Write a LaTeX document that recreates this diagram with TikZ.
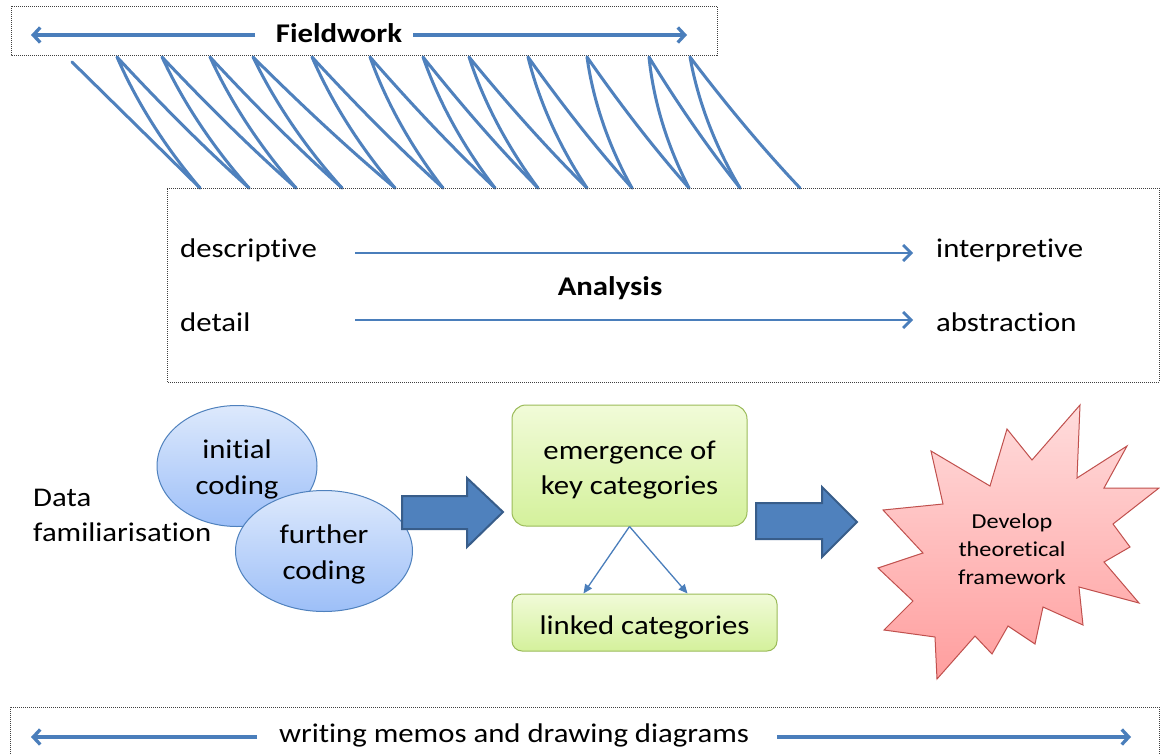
\documentclass[tikz,border=0pt]{standalone}
\usepackage{fontspec}
\setmainfont{Carlito}[FakeStretch=1.14, Ligatures=NoCommon]
\usetikzlibrary{arrows.meta,shapes.geometric,calc}
\definecolor{ablue}{HTML}{4A7EBB}
\definecolor{bfill}{HTML}{4F81BD}
\definecolor{bdark}{HTML}{385D8A}
\definecolor{elltop}{HTML}{DDE9FC}
\definecolor{ellbot}{HTML}{9DBFF8}
\definecolor{elldraw}{HTML}{4F81BD}
\definecolor{grtop}{HTML}{F1FBD8}
\definecolor{grbot}{HTML}{D4F19C}
\definecolor{grdraw}{HTML}{9BBB59}
\definecolor{sttop}{HTML}{FFDCDC}
\definecolor{stbot}{HTML}{FF9E9E}
\definecolor{stdraw}{HTML}{C0504D}
\tikzset{
  dotbox/.style={draw=black!75, line width=0.9pt, dash pattern=on 1pt off 1pt},
  barb/.style={draw=ablue, line width=3.3pt, -{Straight Barb[length=7pt,width=15pt]}},
  thinbarb/.style={draw=ablue, line width=2.8pt, -{Straight Barb[length=8pt,width=16pt]}},
  coil/.style={draw=bfill, line width=3pt, line join=round, line cap=round},
  txt/.style={inner sep=0pt, font=\fontsize{27}{33}\selectfont},
  bigarrow/.style={fill=bfill, draw=bdark, line width=2pt},
  ell/.style={ellipse, draw=elldraw, line width=1pt, top color=elltop, bottom color=ellbot, inner sep=0pt},
  grbox/.style={draw=grdraw, line width=1pt, rounded corners=14pt, top color=grtop, bottom color=grbot, inner sep=0pt},
  smallarr/.style={draw=ablue, line width=1.3pt, -{Triangle[length=9pt,width=8pt]}}
}
\begin{document}
\begin{tikzpicture}[x=1pt,y=-1pt]
\useasboundingbox (0,0) rectangle (1160,755);
\fill[white] (0,0) rectangle (1160,755);

% Fieldwork box
\draw[dotbox] (11,6) rectangle (717,55);
\node[txt, anchor=base, font=\fontsize{27}{33}\selectfont\bfseries] (fw) at (339,42) {Fieldwork};
\coordinate (fwl) at (31,35);
\coordinate (fwr) at (687,35);
\draw[barb] (255,35) -- (fwl);
\draw[barb] (413,35) -- (fwr);

% coil
\draw[coil] (72,62) -- (200,188);
\foreach \bp/\t/\b in {200/117/249, 249/162/296, 296/210/342, 342/253/395, 395/312/443, 443/370/495, 495/423/538, 538/469/587, 587/528/632, 632/587/689, 689/649/740, 740/690/800}{
  \draw[coil] (\bp,188) .. controls +({(\t-\bp)/3-9},-43) and +({(\bp-\t)/3-9},43) .. (\t,57)
     .. controls +({(\b-\t)/3-4},43) and +({-(\b-\t)/3-4},-43) .. (\b,188);
}

% Analysis box
\draw[dotbox] (167,188) -- (1159,188) -- (1159,382) -- (167,382) -- cycle;
\node[txt, anchor=base west] (desc) at (180,257) {descriptive};
\node[txt, anchor=base west] (interp) at (936,257) {interpretive};
\node[txt, anchor=base west] (det) at (180,331) {detail};
\node[txt, anchor=base west] (abs) at (936,331) {abstraction};
\node[txt, anchor=base, font=\fontsize{27}{33}\selectfont\bfseries] (ana) at (610,295) {Analysis};
\coordinate (a1s) at (355,253);
\coordinate (a1e) at (913,253);
\coordinate (a2s) at (355,320);
\coordinate (a2e) at (913,320);
\draw[thinbarb] (a1s) -- (a1e);
\draw[thinbarb] (a2s) -- (a2e);

% ellipses
\node[ell, minimum width=160pt, minimum height=121pt] (ic) at (237,466) {};
\node[txt, align=center, anchor=base, font=\fontsize{27}{36}\selectfont] (ict) at (237,494) {initial\\coding};
\node[ell, minimum width=177pt, minimum height=121pt] (fc) at (324,551) {};
\node[txt, align=center, anchor=base, font=\fontsize{27}{36}\selectfont] (fct) at (324,579) {further\\coding};

% Data familiarisation
\node[txt, align=left, anchor=base west, font=\fontsize{27}{35}\selectfont] (df) at (33,541) {Data\\familiarisation};

% big arrow 1
\draw[bigarrow] (402,496) -- (467,496) -- (467,478) -- (503,512) -- (467,547) -- (467,529) -- (402,529) -- cycle;

% green boxes
\node[grbox, minimum width=235pt, minimum height=121pt] (kc) at (629.5,465.5) {};
\node[txt, align=center, anchor=base, font=\fontsize{27}{35}\selectfont] (kct) at (629.5,494) {emergence of\\key categories};
\node[grbox, rounded corners=10pt, minimum width=265pt, minimum height=57pt] (lc) at (644.5,622.5) {};
\node[txt, anchor=base] (lct) at (644.5,634) {linked categories};
\draw[smallarr] (kc.south) -- ($(lc.north west)+(72,0)$);
\draw[smallarr] (kc.south) -- ($(lc.north west)+(176,0)$);

% big arrow 2
\draw[bigarrow] (756,503) -- (822,503) -- (822,487) -- (857,522) -- (822,557) -- (822,539) -- (756,539) -- cycle;

% star
\draw[stdraw, line width=1pt, top color=sttop, bottom color=stbot]
 (878,568) -- (923,553) -- (883,510) -- (943,504) -- (931,451) -- (990,486) -- (1007,429) -- (1032,460)
 -- (1080,405) -- (1077,478) -- (1127,446) -- (1104,488) -- (1159,488) -- (1113,524) -- (1130,547)
 -- (1104,562) -- (1139,603) -- (1079,587) -- (1083,625) -- (1043,607) -- (1035,644) -- (1008,626)
 -- (992,654) -- (975,636) -- (937,679) -- (935,637) -- (884,630) -- (913,601) -- cycle;
\node[inner sep=0pt, align=center, anchor=base, font=\fontsize{21.3}{28}\selectfont] (dtf) at (1012,584) {Develop\\theoretical\\framework};

% writing memos box
\draw[dotbox] (10,760) -- (10,707) -- (1159,707) -- (1159,760);
\node[txt, anchor=base] (wm) at (514,742) {writing memos and drawing diagrams};
\coordinate (wl) at (31,737);
\coordinate (wr) at (1131,737);
\draw[barb] (257,737) -- (wl);
\draw[barb] (777,737) -- (wr);
\end{tikzpicture}
\end{document}
